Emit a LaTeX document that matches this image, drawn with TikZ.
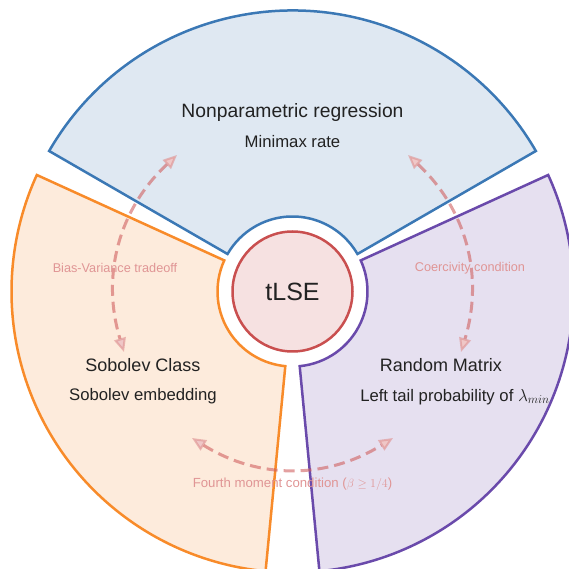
\documentclass[tikz,border=0pt]{standalone}
\usepackage{fontspec}
\setmainfont{Liberation Sans}
\usetikzlibrary{arrows.meta}
\definecolor{bstroke}{HTML}{3B78B5}
\definecolor{bfill}{HTML}{DFE8F2}
\definecolor{ostroke}{HTML}{F88B2A}
\definecolor{ofill}{HTML}{FDEBDC}
\definecolor{pstroke}{HTML}{6A4AAB}
\definecolor{pfill}{HTML}{E6E0F0}
\definecolor{cstroke}{HTML}{C94F4F}
\definecolor{cfill}{HTML}{F6E1E1}
\definecolor{arrowcol}{HTML}{D06060}
\definecolor{labelcol}{HTML}{E09595}
\definecolor{textcol}{HTML}{222222}
\tikzset{
  sector/.style={line width=2.5pt, line join=miter},
  relarrow/.style={line width=3pt, draw=arrowcol, draw opacity=0.6,
    dash pattern=on 11pt off 6pt,
    {Triangle[length=14pt,width=12pt,open,line width=2pt,fill=arrowcol!35,color=arrowcol!70]}-{Triangle[length=14pt,width=12pt,open,line width=2pt,fill=arrowcol!35,color=arrowcol!70]}},
  title/.style={text=textcol, font=\fontsize{19.3}{23}\selectfont},
  heading/.style={text=textcol, font=\fontsize{18}{22}\selectfont},
  subline/.style={text=textcol, font=\fontsize{16.7}{20}\selectfont},
  rellabel/.style={text=labelcol, font=\fontsize{12.7}{15}\selectfont},
}
\begin{document}
\begin{tikzpicture}[x=1pt,y=1pt]
\useasboundingbox (-292.5,-277.5) rectangle (275.5,291.5);
\def\rin{75}
\def\rout{281}
% sectors
\draw[sector, draw=bstroke, fill=bfill] (30:\rin pt) arc[start angle=30, end angle=150, radius=\rin pt] -- (150:\rout pt) arc[start angle=150, end angle=30, radius=\rout pt] -- cycle;
\draw[sector, draw=ostroke, fill=ofill] (155.5:\rin pt) arc[start angle=155.5, end angle=264.5, radius=\rin pt] -- (264.5:\rout pt) arc[start angle=264.5, end angle=155.5, radius=\rout pt] -- cycle;
\draw[sector, draw=pstroke, fill=pfill] (275.5:\rin pt) arc[start angle=275.5, end angle=384.5, radius=\rin pt] -- (384.5:\rout pt) arc[start angle=384.5, end angle=275.5, radius=\rout pt] -- cycle;
% center
\node[circle, minimum size=120pt, inner sep=0pt, line width=2.5pt, draw=cstroke, fill=cfill, text=textcol, font=\fontsize{25}{30}\selectfont] (tlse) at (0,0) {tLSE};
% arrow end points
\coordinate (npL) at (-115.5,136.5);
\coordinate (sobT) at (-168.5,-60.5);
\coordinate (npR) at (115.5,136.5);
\coordinate (rmT) at (168.5,-60.5);
\coordinate (sobB) at (-100.5,-146.5);
\coordinate (rmB) at (100.5,-146.5);
\draw[relarrow] (npL) to[bend right=32] (sobT);
\draw[relarrow] (npR) to[bend left=32] (rmT);
\draw[relarrow] (sobB) to[bend right=32] (rmB);
% labels
\node[rellabel] (bvl) at (-177.5,23.5) {Bias-Variance tradeoff};
\node[rellabel] (ccl) at (177.5,23.5) {Coercivity condition};
\node[rellabel, anchor=base, font=\fontsize{13.2}{16}\selectfont] (fml) at (0,-195.5) {Fourth moment condition ($\beta\geq 1/4$)};
% texts
\node[title] (np) at (0,178.5) {Nonparametric regression};
\node[subline] (mm) at (0,149.5) {Minimax rate};
\node[heading] (sc) at (-149.5,-73.5) {Sobolev Class};
\node[subline] (se) at (-149.5,-104.5) {Sobolev embedding};
\node[heading] (rm) at (148.5,-73.5) {Random Matrix};
\node[subline, anchor=base] (lt) at (162.5,-109.5) {Left tail probability of $\lambda_{min}$};
\end{tikzpicture}
\end{document}
